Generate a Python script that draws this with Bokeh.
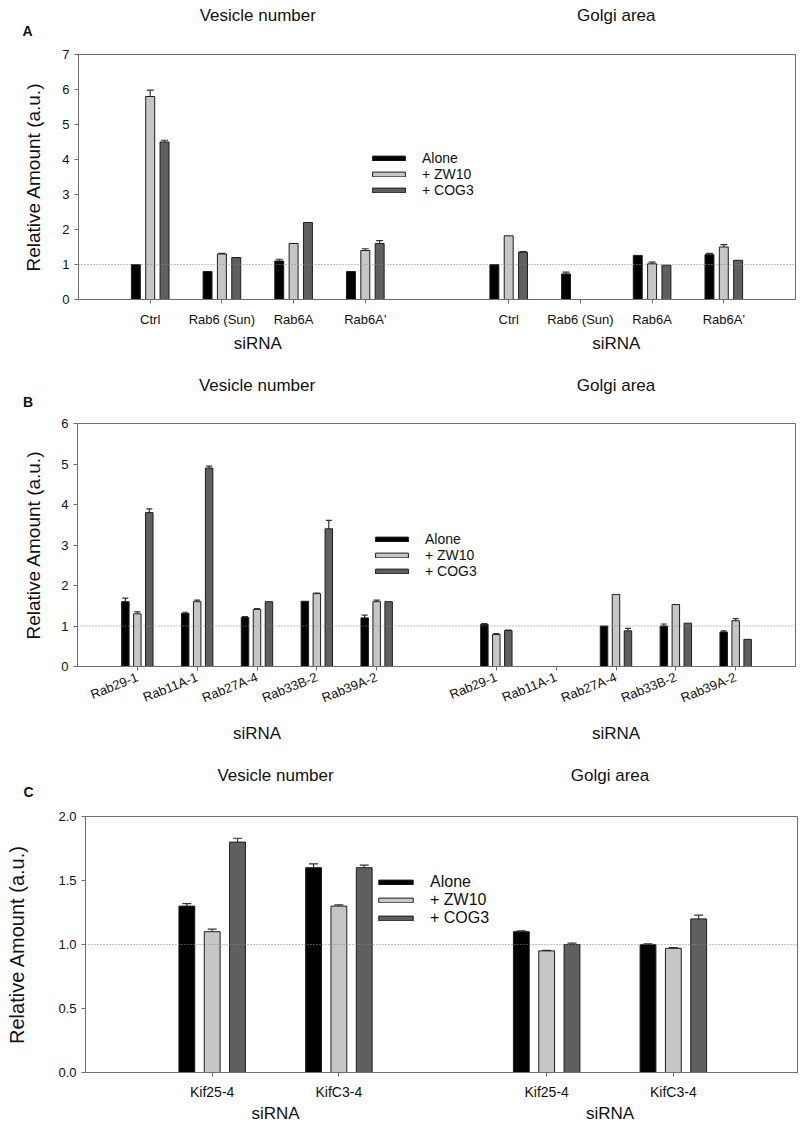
import math
from bokeh.plotting import figure
from bokeh.models import (Range1d, FixedTicker, Span, Whisker, TeeHead,
                          ColumnDataSource, Legend, LegendItem)
from bokeh.core.properties import value
from bokeh.embed import file_html
from bokeh.resources import INLINE

NaN = float("nan")
FONT = "Liberation Sans"
W = 800

series = ["Alone", "+ ZW10", "+ COG3"]
colors = ["#000000", "#c6c6c6", "#5f5f5f"]
group_titles = ["Vesicle number", "Golgi area"]
axis_title = "siRNA"

# ---------------- Panel A ----------------
a_cats = ["Ctrl", "Rab6 (Sun)", "Rab6A", "Rab6A'"]
a_ves_alone = [1.0, 0.8, 1.1, 0.8]
a_ves_alone_err = [0.0, 0.0, 0.05, 0.0]
a_ves_zw10 = [5.8, 1.3, 1.6, 1.4]
a_ves_zw10_err = [0.18, 0.02, 0.0, 0.05]
a_ves_cog3 = [4.5, 1.2, 2.2, 1.6]
a_ves_cog3_err = [0.05, 0.0, 0.0, 0.08]
a_gol_alone = [1.0, 0.73, 1.26, 1.28]
a_gol_alone_err = [0.0, 0.05, 0.0, 0.04]
a_gol_zw10 = [1.82, NaN, 1.02, 1.5]
a_gol_zw10_err = [0.0, NaN, 0.05, 0.07]
a_gol_cog3 = [1.35, NaN, 0.98, 1.12]
a_gol_cog3_err = [0.02, NaN, 0.0, 0.0]
a_yticks = [0, 1, 2, 3, 4, 5, 6, 7]

# ---------------- Panel B ----------------
b_cats = ["Rab29-1", "Rab11A-1", "Rab27A-4", "Rab33B-2", "Rab39A-2"]
b_ves_alone = [1.6, 1.31, 1.21, 1.61, 1.2]
b_ves_alone_err = [0.09, 0.03, 0.02, 0.0, 0.07]
b_ves_zw10 = [1.3, 1.6, 1.41, 1.8, 1.6]
b_ves_zw10_err = [0.05, 0.04, 0.02, 0.01, 0.04]
b_ves_cog3 = [3.8, 4.9, 1.6, 3.4, 1.6]
b_ves_cog3_err = [0.09, 0.05, 0.0, 0.21, 0.0]
b_gol_alone = [1.04, NaN, 1.0, 1.0, 0.85]
b_gol_alone_err = [0.02, NaN, 0.0, 0.05, 0.03]
b_gol_zw10 = [0.79, NaN, 1.78, 1.53, 1.13]
b_gol_zw10_err = [0.02, NaN, 0.0, 0.0, 0.05]
b_gol_cog3 = [0.89, NaN, 0.88, 1.07, 0.67]
b_gol_cog3_err = [0.01, NaN, 0.06, 0.0, 0.0]
b_yticks = [0, 1, 2, 3, 4, 5, 6]

# ---------------- Panel C ----------------
c_cats = ["Kif25-4", "KifC3-4"]
c_ves_alone = [1.3, 1.6]
c_ves_alone_err = [0.02, 0.03]
c_ves_zw10 = [1.1, 1.3]
c_ves_zw10_err = [0.02, 0.01]
c_ves_cog3 = [1.8, 1.6]
c_ves_cog3_err = [0.03, 0.02]
c_gol_alone = [1.1, 1.0]
c_gol_alone_err = [0.006, 0.006]
c_gol_zw10 = [0.95, 0.97]
c_gol_zw10_err = [0.004, 0.006]
c_gol_cog3 = [1.0, 1.2]
c_gol_cog3_err = [0.01, 0.03]
c_yticks = [0.0, 0.5, 1.0, 1.5, 2.0]
c_ytick_labels = ["0.0", "0.5", "1.0", "1.5", "2.0"]


def group_centers(n, cfg):
    ves_pos = [1.0 + i for i in range(n)]
    gol_pos = [cfg["golgi_start"] + i for i in range(n)]
    return ves_pos, gol_pos


def to_px(xdata, cfg):
    fw = W - cfg["bl"] - cfg["br"]
    return cfg["bl"] + xdata / cfg["xmax"] * fw


def make_panel(cats, ves, ves_err, gol, gol_err, yticks, cfg):
    n = len(cats)
    ves_pos, gol_pos = group_centers(n, cfg)
    positions = ves_pos + gol_pos
    labels = cats + cats

    p = figure(width=W, height=cfg["height"],
               x_range=Range1d(0, cfg["xmax"]), y_range=Range1d(0, yticks[-1]),
               output_backend="svg", toolbar_location=None,
               min_border_left=cfg["bl"], min_border_right=cfg["br"],
               min_border_top=9, min_border_bottom=cfg["bb"])
    p.grid.visible = False
    p.outline_line_color = "#6e6e6e"
    p.outline_line_width = 1

    p.add_layout(Span(location=1, dimension="width", line_color="#8a8a8a",
                      line_dash="1 2", line_width=1))

    offsets = [-0.2, 0.0, 0.2]
    renderers = []
    for s in range(3):
        xs = [x + offsets[s] for x in positions]
        tops = ves[s] + gol[s]
        errs = ves_err[s] + gol_err[s]
        src = ColumnDataSource(dict(x=xs, top=tops))
        r = p.vbar(x="x", top="top", width=0.125, bottom=0, source=src,
                   fill_color=colors[s], line_color="#1e1e1e", line_width=1)
        renderers.append(r)
        wx, wl, wu = [], [], []
        for x, t, e in zip(xs, tops, errs):
            if not (math.isnan(t) or math.isnan(e)) and e > 0:
                wx.append(x)
                wl.append(t)
                wu.append(t + e)
        wsrc = ColumnDataSource(dict(base=wx, lower=wl, upper=wu))
        p.add_layout(Whisker(source=wsrc, base="base", lower="lower", upper="upper",
                             dimension="height", line_color="#333333", line_width=1.2,
                             lower_head=None,
                             upper_head=TeeHead(size=cfg["cap"], line_color="#333333",
                                                line_width=1.2)))

    xa = p.xaxis[0]
    xa.ticker = FixedTicker(ticks=positions)
    xa.major_label_overrides = {pos: lab for pos, lab in zip(positions, labels)}
    xa.minor_tick_line_color = None
    xa.major_tick_in = 0
    xa.major_tick_out = 4
    xa.axis_line_color = "#6e6e6e"
    xa.major_tick_line_color = "#6e6e6e"
    xa.major_label_text_font = FONT
    xa.major_label_text_font_size = cfg["xfs"]
    xa.major_label_text_color = "#111111"
    xa.major_label_standoff = cfg["xstand"]
    if cfg.get("rot"):
        xa.major_label_orientation = cfg["rot"]

    ya = p.yaxis[0]
    ya.ticker = FixedTicker(ticks=yticks)
    if cfg.get("ylabels"):
        ya.major_label_overrides = {t: l for t, l in zip(yticks, cfg["ylabels"])}
    ya.minor_tick_line_color = None
    ya.major_tick_in = 0
    ya.major_tick_out = 4
    ya.axis_line_color = "#6e6e6e"
    ya.major_tick_line_color = "#6e6e6e"
    ya.major_label_text_font = FONT
    ya.major_label_text_font_size = "13px"
    ya.major_label_text_color = "#111111"
    ya.major_label_standoff = 5
    ya.axis_label = "Relative Amount (a.u.)"
    ya.axis_label_text_font = FONT
    ya.axis_label_text_font_size = cfg["ylab_size"]
    ya.axis_label_text_font_style = "normal"
    ya.axis_label_text_color = "#111111"
    ya.axis_label_standoff = cfg["ylab_stand"]

    legend = Legend(items=[LegendItem(label=series[i], renderers=[renderers[i]])
                           for i in range(3)],
                    location=cfg["leg_loc"], orientation="vertical",
                    padding=0, margin=0, spacing=cfg["leg_spacing"],
                    border_line_color=None, background_fill_alpha=0,
                    glyph_width=cfg["leg_gw"], glyph_height=6,
                    label_standoff=13, label_height=cfg["leg_lh"],
                    label_text_font=FONT, label_text_font_size=cfg["leg_fs"],
                    label_text_color="#111111")
    p.add_layout(legend)
    return p


def strip(height, items):
    """Text strip between panels: x and y in pixels of the strip."""
    s = figure(width=W, height=height, x_range=Range1d(0, W),
               y_range=Range1d(height, 0), x_axis_type=None, y_axis_type=None,
               output_backend="svg", toolbar_location=None, min_border=0)
    s.outline_line_color = None
    s.grid.visible = False
    for (x, y, txt, size, style, baseline) in items:
        s.text(x=[x], y=[y], text=[txt], text_align="center",
               text_baseline=baseline, text_font=value(FONT),
               text_font_size=value(size), text_font_style=style,
               text_color="#111111")
    return s


cfg_a = dict(height=286, bl=78, br=5, bb=32, xmax=10.0, golgi_start=6.0,
             cap=7, xstand=8, xfs="13px", ylab_size="19px", ylab_stand=15,
             leg_loc=(290, 101), leg_spacing=-2, leg_gw=41, leg_lh=14, leg_fs="14px")
cfg_b = dict(height=301, bl=77, br=5, bb=49, xmax=12.0, golgi_start=7.0,
             cap=6, xstand=6, xfs="13px", rot=0.38, ylab_size="19px", ylab_stand=14,
             leg_loc=(294, 87), leg_spacing=-1, leg_gw=41, leg_lh=14, leg_fs="14px")
cfg_c = dict(height=295, bl=85, br=3, bb=30, xmax=5.62, golgi_start=3.64,
             cap=9, xstand=7, xfs="14px", ylabels=c_ytick_labels, ylab_size="20px",
             ylab_stand=27, leg_loc=(289, 145), leg_spacing=-5, leg_gw=43,
             leg_lh=15, leg_fs="16px")


def centers_px(n, cfg):
    v, g = group_centers(n, cfg)
    return [to_px(sum(v) / n, cfg), to_px(sum(g) / n, cfg)]


ca = centers_px(len(a_cats), cfg_a)
cb = centers_px(len(b_cats), cfg_b)
cc = centers_px(len(c_cats), cfg_c)

s0 = strip(45, [(ca[0], 15, group_titles[0], "17px", "normal", "alphabetic"),
                (ca[1], 15, group_titles[1], "17px", "normal", "alphabetic"),
                (27, 30, "A", "14px", "bold", "middle")])
pa = make_panel(a_cats, [a_ves_alone, a_ves_zw10, a_ves_cog3],
                [a_ves_alone_err, a_ves_zw10_err, a_ves_cog3_err],
                [a_gol_alone, a_gol_zw10, a_gol_cog3],
                [a_gol_alone_err, a_gol_zw10_err, a_gol_cog3_err], a_yticks, cfg_a)
s1 = strip(83, [(ca[0], 12, axis_title, "17px", "normal", "middle"),
                (ca[1], 12, axis_title, "17px", "normal", "middle"),
                (cb[0], 54, group_titles[0], "17px", "normal", "alphabetic"),
                (cb[1], 54, group_titles[1], "17px", "normal", "alphabetic"),
                (27.5, 70.5, "B", "14px", "bold", "middle")])
pb = make_panel(b_cats, [b_ves_alone, b_ves_zw10, b_ves_cog3],
                [b_ves_alone_err, b_ves_zw10_err, b_ves_cog3_err],
                [b_gol_alone, b_gol_zw10, b_gol_cog3],
                [b_gol_alone_err, b_gol_zw10_err, b_gol_cog3_err], b_yticks, cfg_b)
s2 = strip(92, [(cb[0], 18, axis_title, "17px", "normal", "middle"),
                (cb[1], 18, axis_title, "17px", "normal", "middle"),
                (cc[0], 60, group_titles[0], "17px", "normal", "alphabetic"),
                (cc[1], 60, group_titles[1], "17px", "normal", "alphabetic"),
                (28, 76, "C", "14px", "bold", "middle")])
pc = make_panel(c_cats, [c_ves_alone, c_ves_zw10, c_ves_cog3],
                [c_ves_alone_err, c_ves_zw10_err, c_ves_cog3_err],
                [c_gol_alone, c_gol_zw10, c_gol_cog3],
                [c_gol_alone_err, c_gol_zw10_err, c_gol_cog3_err], c_yticks, cfg_c)
s3 = strip(23, [(cc[0], 11, axis_title, "17px", "normal", "middle"),
                (cc[1], 11, axis_title, "17px", "normal", "middle")])

# separate roots, stacked vertically (so plot frames are not force-aligned)
open("out.html", "w").write(file_html([s0, pa, s1, pb, s2, pc, s3], INLINE))
